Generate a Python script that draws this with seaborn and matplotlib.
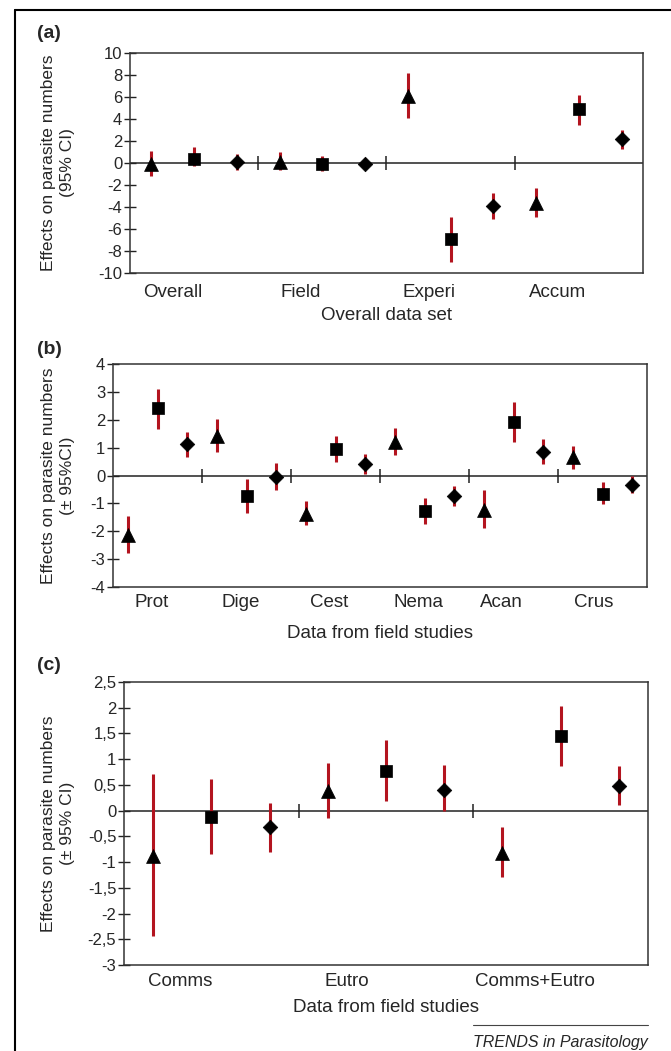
import numpy as np
import pandas as pd
import matplotlib
matplotlib.use("Agg")
import matplotlib.pyplot as plt
import seaborn as sns
from matplotlib.lines import Line2D

sns.set_style("white")
plt.rcParams['font.family'] = ['Liberation Sans', 'DejaVu Sans']

# marker kinds repeat triangle / square / diamond in every group
kinds = ['tri', 'sq', 'dia']

# panel (a): overall data set
a_groups = ['Overall', 'Field', 'Experi', 'Accum']
a_effect = [-0.1, 0.4, 0.1, 0.1, -0.1, -0.1, 6.1, -6.9, -3.9, -3.6, 4.9, 2.2]
a_lo = [-1.2, -0.3, -0.6, -0.6, -0.7, -0.5, 4.1, -9.0, -5.1, -4.9, 3.5, 1.3]
a_hi = [1.1, 1.5, 0.8, 1.0, 0.6, 0.5, 8.2, -4.9, -2.7, -2.3, 6.2, 3.0]
a_yticks = [10, 8, 6, 4, 2, 0, -2, -4, -6, -8, -10]
a_yticklabels = ['10', '8', '6', '4', '2', '0', '-2', '-4', '-6', '-8', '-10']

# panel (b): field studies by parasite group
b_groups = ['Prot', 'Dige', 'Cest', 'Nema', 'Acan', 'Crus']
b_effect = [-2.13, 2.42, 1.12, 1.40, -0.72, -0.05, -1.38, 0.95, 0.42,
            1.20, -1.26, -0.73, -1.23, 1.93, 0.85, 0.66, -0.65, -0.35]
b_lo = [-2.79, 1.67, 0.66, 0.83, -1.35, -0.52, -1.79, 0.50, 0.06,
        0.72, -1.74, -1.09, -1.89, 1.19, 0.42, 0.25, -1.04, -0.64]
b_hi = [-1.44, 3.12, 1.57, 2.04, -0.13, 0.44, -0.90, 1.40, 0.78,
        1.69, -0.80, -0.37, -0.53, 2.64, 1.32, 1.07, -0.24, 0.00]
b_yticks = [4, 3, 2, 1, 0, -1, -2, -3, -4]
b_yticklabels = ['4', '3', '2', '1', '0', '-1', '-2', '-3', '-4']

# panel (c): field studies by impact type
c_groups = ['Comms', 'Eutro', 'Comms+Eutro']
c_effect = [-0.89, -0.12, -0.32, 0.38, 0.77, 0.41, -0.82, 1.46, 0.48]
c_lo = [-2.44, -0.84, -0.80, -0.14, 0.18, 0.00, -1.29, 0.86, 0.10]
c_hi = [0.72, 0.62, 0.14, 0.93, 1.38, 0.88, -0.32, 2.04, 0.86]
c_yticks = [2.5, 2, 1.5, 1, 0.5, 0, -0.5, -1, -1.5, -2, -2.5, -3]
c_yticklabels = ['2,5', '2', '1,5', '1', '0,5', '0', '-0,5', '-1', '-1,5', '-2', '-2,5', '-3']

W, H = 671, 1051
fig = plt.figure(figsize=(W / 100, H / 100), dpi=100)

RED = '#b3141f'
markers = {'tri': '^', 'sq': 's', 'dia': 'D'}
sizes = {'tri': 100, 'sq': 85, 'dia': 55}


def panel(l, r, t, b, groups, effect, lo, hi, yticks, yticklabels, ylim,
          label_pos, ylabel, xlabel, tag, tag_y, label_pad, xlabel_y):
    ax = fig.add_axes([l / W, 1 - b / H, (r - l) / W, (b - t) / H])
    n = len(effect)
    df = pd.DataFrame({
        'pos': np.arange(n),
        'effect': effect,
        'lo': lo,
        'hi': hi,
        'kind': [kinds[i % 3] for i in range(n)],
    })
    ax.axhline(0, color='#222222', lw=1.1, zorder=1)
    # group separators on the zero line
    seps = np.arange(3, n, 3) - 0.5
    ax.plot(seps, np.zeros(len(seps)), ls='none', marker='|', ms=10,
            mew=1.1, color='#222222', zorder=1)
    ax.vlines(df['pos'], df['lo'], df['hi'], color=RED, lw=2.2, zorder=2)
    for k in kinds:
        sub = df[df['kind'] == k]
        sns.scatterplot(data=sub, x='pos', y='effect', marker=markers[k],
                        s=sizes[k], color='black', edgecolor='black',
                        linewidth=0.5, ax=ax, zorder=3, legend=False)
    ax.set_xlim(-0.5, n - 0.5)
    ax.set_ylim(*ylim)
    ax.set_yticks(yticks)
    ax.set_yticklabels(yticklabels, fontsize=12)
    ax.set_xticks(label_pos)
    ax.set_xticklabels(groups, fontsize=13.5)
    ax.tick_params(axis='x', length=0, pad=label_pad)
    ax.tick_params(axis='y', length=9, width=1, direction='inout', pad=1,
                   left=True, color='#222222')
    ax.set_xlabel(xlabel, fontsize=13.5, va='center')
    ax.xaxis.set_label_coords(0.5, -(xlabel_y - b) / (b - t))
    ax.set_ylabel(ylabel, fontsize=12.5, va='center', linespacing=1.3)
    ax.yaxis.set_label_coords(-(l - 58) / (r - l), 0.5)
    for s in ax.spines.values():
        s.set_color('#333333')
        s.set_linewidth(1.1)
    fig.text(37 / W, 1 - tag_y / H, tag, fontsize=14, fontweight='bold',
             ha='left', va='center')
    return ax


panel(130, 643, 53, 273, a_groups, a_effect, a_lo, a_hi,
      a_yticks, a_yticklabels, (-10, 10), [0.5, 3.5, 6.5, 9.5],
      'Effects on parasite numbers\n(95% CI)', 'Overall data set',
      '(a)', 33, 8, 316)

panel(113, 647, 364, 587, b_groups, b_effect, b_lo, b_hi,
      b_yticks, b_yticklabels, (-4, 4), [0.8, 3.8, 6.8, 9.8, 12.6, 15.7],
      'Effects on parasite numbers\n(± 95%CI)', 'Data from field studies',
      '(b)', 349, 5, 633)

panel(124, 648, 682, 965, c_groups, c_effect, c_lo, c_hi,
      c_yticks, c_yticklabels, (-3, 2.5), [0.47, 3.33, 6.55],
      'Effects on parasite numbers\n(± 95% CI)', 'Data from field studies',
      '(c)', 665, 6, 1007)

# outer frame (top and left edges) and journal credit
fig.add_artist(Line2D([15 / W, 1], [1 - 10 / H, 1 - 10 / H], color='black', lw=1.5))
fig.add_artist(Line2D([15 / W, 15 / W], [0, 1 - 10 / H], color='black', lw=1.5))
fig.add_artist(Line2D([473 / W, 648 / W], [1 - 1025 / H, 1 - 1025 / H], color='#444444', lw=0.8))
fig.text(648 / W, 1 - 1043 / H, 'TRENDS in Parasitology', fontsize=11.5,
         style='italic', ha='right', va='center')

fig.savefig('out.png', dpi=100)
